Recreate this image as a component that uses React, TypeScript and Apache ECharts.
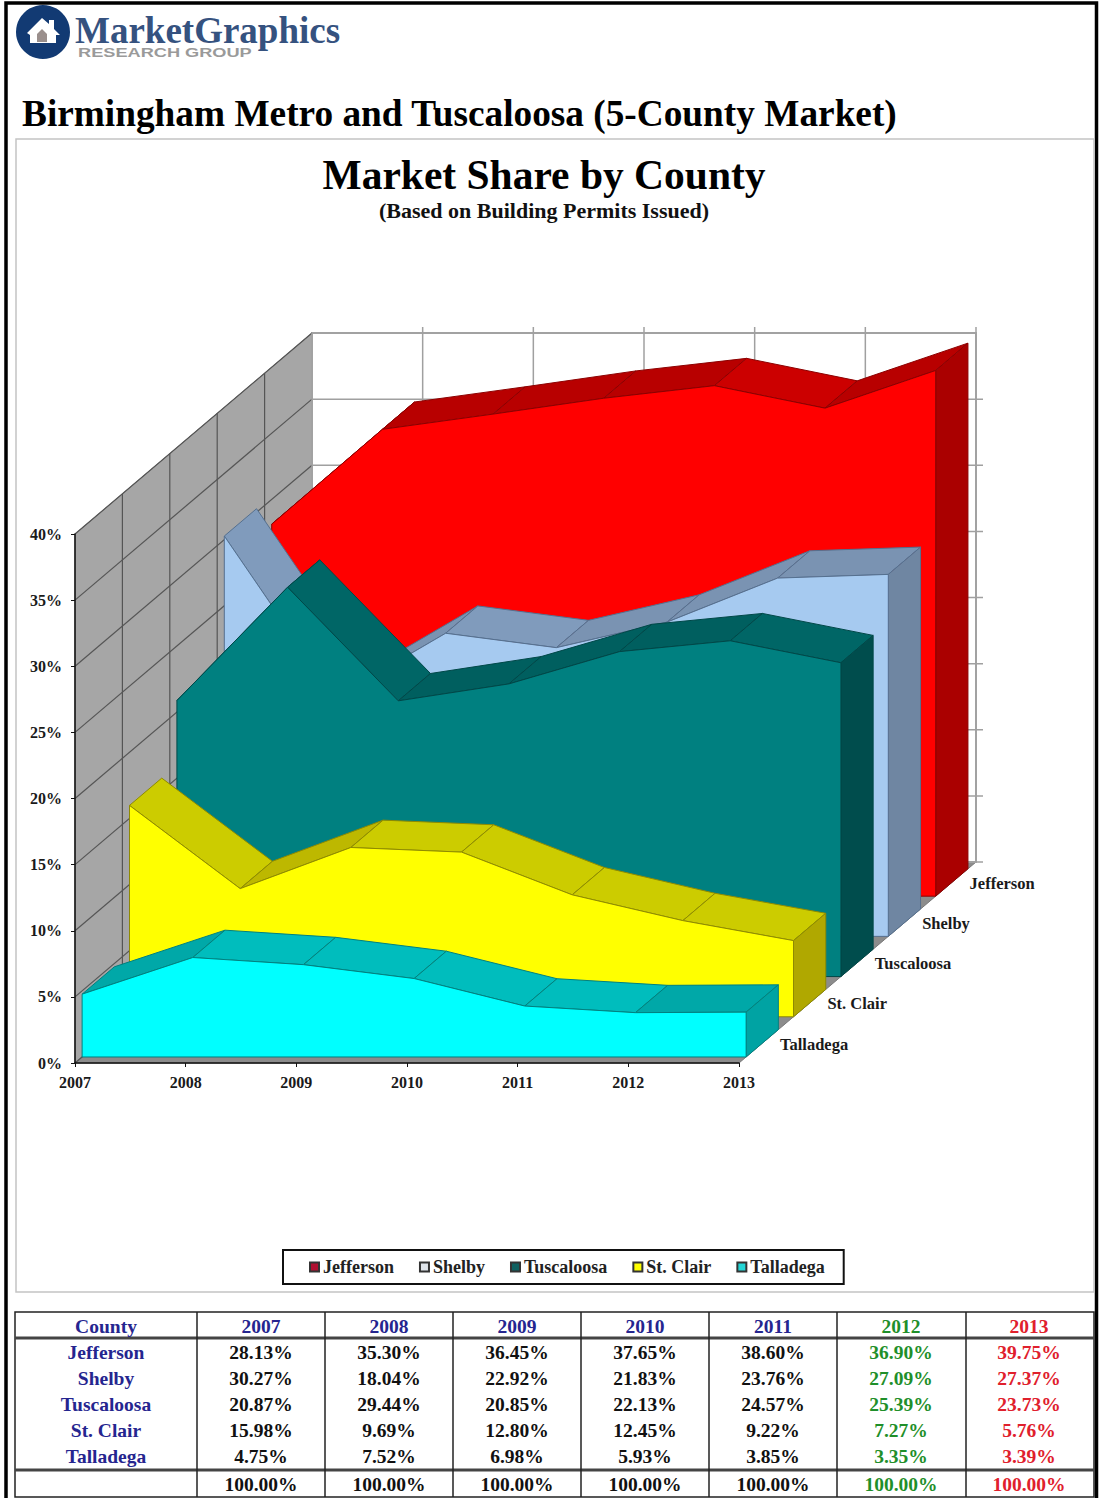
import React, { useEffect, useRef } from "react";
import * as echarts from "echarts";

const years = ["2007", "2008", "2009", "2010", "2011", "2012", "2013"];
const yTicks = [0, 5, 10, 15, 20, 25, 30, 35, 40];

const counties = ["Jefferson", "Shelby", "Tuscaloosa", "St. Clair", "Talladega"];
const jefferson = [28.13, 35.3, 36.45, 37.65, 38.6, 36.9, 39.75];
const shelby = [30.27, 18.04, 22.92, 21.83, 23.76, 27.09, 27.37];
const tuscaloosa = [20.87, 29.44, 20.85, 22.13, 24.57, 25.39, 23.73];
const stClair = [15.98, 9.69, 12.8, 12.45, 9.22, 7.27, 5.76];
const talladega = [4.75, 7.52, 6.98, 5.93, 3.85, 3.35, 3.39];
const totals = [100, 100, 100, 100, 100, 100, 100];
const shares = [jefferson, shelby, tuscaloosa, stClair, talladega];

// front, falling top, rising top, end cap, edge, legend swatch
const frontColors = ["#ff0000", "#a6caf0", "#008080", "#ffff00", "#00ffff"];
const topColors = ["#cc0000", "#809bbc", "#006666", "#cccc00", "#00bdbd"];
const riseColors = ["#b80000", "#7a93b2", "#005f5f", "#bdb800", "#00a8a8"];
const capColors = ["#aa0000", "#6f86a2", "#004d4d", "#b0a800", "#00a3a3"];
const edgeColors = ["#8c0000", "#55708f", "#004848", "#8f8a00", "#008080"];
const swatchColors = ["#b01030", "#dfe4ea", "#0f6060", "#ffff00", "#22d5d5"];

const SERIF = '"Liberation Serif"';
const DEPTH_X = 47.4;
const DEPTH_Y = 40.2;
const BAND_FRONT = 0.15;
const BAND_BACK = 0.83;
const LAST = years.length - 1;
const ROWS = counties.length;

type Pt = [number, number];
const shift = (p: number[], depth: number): Pt => [p[0] + DEPTH_X * depth, p[1] - DEPTH_Y * depth];

// Side wall, back wall and floor of the box the bands stand in.
function renderBox(_params: any, api: any) {
  const at = (i: number, v: number, depth: number) => shift(api.coord([i, v]), depth);
  const children: any[] = [];
  const line = (a: Pt, b: Pt, stroke: string, lineWidth = 1) =>
    children.push({ type: "line", shape: { x1: a[0], y1: a[1], x2: b[0], y2: b[1] }, style: { stroke, lineWidth } });

  children.push({
    type: "polygon",
    shape: { points: [at(0, 0, 0), at(LAST, 0, 0), at(LAST, 0, ROWS), at(0, 0, ROWS)] },
    style: { fill: "#8c8c8c", stroke: "#777777", lineWidth: 1 },
  });
  children.push({
    type: "polygon",
    shape: { points: [at(0, 0, 0), at(0, 40, 0), at(0, 40, ROWS), at(0, 0, ROWS)] },
    style: { fill: "#a6a6a6", stroke: "#6e6e6e", lineWidth: 1 },
  });
  children.push({
    type: "polygon",
    shape: { points: [at(0, 0, ROWS), at(0, 40, ROWS), at(LAST, 40, ROWS), at(LAST, 0, ROWS)] },
    style: { fill: "#ffffff", stroke: "#a8a8a8", lineWidth: 2 },
  });
  yTicks.forEach((v) => {
    line(at(0, v, 0), at(0, v, ROWS), "#555555", 1.2);
    const right = at(LAST, v, ROWS);
    line(at(0, v, ROWS), [right[0] + (v < 40 ? 7 : 0), right[1]], "#a0a0a0", 1.5);
  });
  for (let k = 1; k < ROWS; k++) line(at(0, 0, k), at(0, 40, k), "#555555", 1.2);
  years.forEach((_y, i) => {
    const top = at(i, 40, ROWS);
    line(at(i, 0, ROWS), [top[0], top[1] - (i > 0 ? 6 : 0)], "#a0a0a0", 1.5);
  });
  return { type: "group", children };
}

// One county's band: top facets left to right, the end cap, then the front face.
function makeBand(row: number) {
  const values = shares[row];
  const depthFront = ROWS - 1 - row + BAND_FRONT;
  const depthBack = ROWS - 1 - row + BAND_BACK;
  return (params: any, api: any) => {
    if (params.dataIndex !== 0) return null;
    const front = (i: number, v: number) => shift(api.coord([i, v]), depthFront);
    const back = (i: number, v: number) => shift(api.coord([i, v]), depthBack);
    const children: any[] = [];
    const edge = edgeColors[row];
    for (let i = 0; i < LAST; i++) {
      const rising = values[i + 1] > values[i];
      children.push({
        type: "polygon",
        shape: { points: [front(i, values[i]), front(i + 1, values[i + 1]), back(i + 1, values[i + 1]), back(i, values[i])] },
        style: { fill: rising ? riseColors[row] : topColors[row], stroke: edge, lineWidth: 1 },
      });
    }
    children.push({
      type: "polygon",
      shape: { points: [front(LAST, 0), front(LAST, values[LAST]), back(LAST, values[LAST]), back(LAST, 0)] },
      style: { fill: capColors[row], stroke: edge, lineWidth: 1 },
    });
    const outline: Pt[] = [front(0, 0)];
    values.forEach((v, i) => outline.push(front(i, v)));
    outline.push(front(LAST, 0));
    children.push({
      type: "polygon",
      shape: { points: outline },
      style: { fill: frontColors[row], stroke: edge, lineWidth: 1 },
    });
    const foot = shift(api.coord([LAST, 0]), ROWS - 1 - row);
    children.push({
      type: "text",
      style: {
        text: counties[row],
        x: foot[0] + 41,
        y: foot[1] - 19,
        align: "left",
        verticalAlign: "middle",
        fill: "#1a1a1a",
        font: `bold 16.5px ${SERIF}`,
      },
    });
    return { type: "group", children };
  };
}

// Masthead, page frame and the table below the chart.
const columnCentres = [261, 389, 517, 645, 773, 901, 1029];
const rowCentres = [1352, 1378, 1404, 1430, 1456];
const columnRules = [197, 325, 453, 581, 709, 837, 966];
const NAVY = "#25258f";
const yearColor = (i: number, base: string) => (i === 5 ? "#1f8f2a" : i === 6 ? "#e0202c" : base);
const percent = (v: number) => `${v.toFixed(2)}%`;

function cell(text: string, x: number, y: number, fill: string) {
  return {
    type: "text",
    silent: true,
    style: { text, x, y, align: "center", verticalAlign: "middle", fill, font: `bold 19.5px ${SERIF}` },
  };
}

function rule(x1: number, y1: number, x2: number, y2: number, stroke = "#222222", lineWidth = 1.5) {
  return { type: "line", silent: true, shape: { x1, y1, x2, y2 }, style: { stroke, lineWidth } };
}

function pageGraphics() {
  const items: any[] = [
    { type: "rect", silent: true, z: -10, shape: { x: 6, y: 3, width: 1090.5, height: 1500 }, style: { fill: "#ffffff", stroke: "#000000", lineWidth: 3.5 } },
    { type: "rect", silent: true, z: -9, shape: { x: 16, y: 139, width: 1078, height: 1153 }, style: { fill: "#ffffff", stroke: "#c4c4c4", lineWidth: 1.5 } },
    { type: "circle", silent: true, shape: { cx: 43, cy: 32, r: 27 }, style: { fill: "#123a73" } },
    { type: "polygon", silent: true, shape: { points: [[27, 33], [42, 18], [49, 24], [49, 20], [54, 20], [54, 29], [60, 35], [56, 35], [56, 43], [30, 43], [30, 35]] }, style: { fill: "#ffffff" } },
    { type: "polygon", silent: true, shape: { points: [[37, 42], [37, 34], [42, 29], [47, 34], [47, 42]] }, style: { fill: "#9a8f8c" } },
    { type: "text", silent: true, style: { text: "MarketGraphics", x: 75, y: 30, align: "left", verticalAlign: "middle", fill: "#35527f", font: `bold 37px ${SERIF}` } },
    { type: "text", silent: true, x: 78, y: 52, scaleX: 1.4, style: { text: "RESEARCH GROUP", x: 0, y: 0, align: "left", verticalAlign: "middle", fill: "#9a9a9a", font: 'bold 13px "Liberation Sans"' } },
    { type: "text", silent: true, style: { text: "Birmingham Metro and Tuscaloosa (5-County Market)", x: 22, y: 113, align: "left", verticalAlign: "middle", fill: "#000000", font: `bold 37.3px ${SERIF}` } },
    { type: "rect", silent: true, shape: { x: 15, y: 1312, width: 1079, height: 185 }, style: { fill: "#ffffff", stroke: "#222222", lineWidth: 1.5 } },
    rule(15, 1338, 1094, 1338, "#444444", 3),
    rule(15, 1470, 1094, 1470, "#444444", 3),
  ];
  columnRules.forEach((x) => items.push(rule(x, 1312, x, 1497)));
  items.push(cell("County", 106, 1326, NAVY));
  years.forEach((y, i) => items.push(cell(y, columnCentres[i], 1326, yearColor(i, NAVY))));
  counties.forEach((name, r) => {
    items.push(cell(name, 106, rowCentres[r], NAVY));
    shares[r].forEach((v, i) => items.push(cell(percent(v), columnCentres[i], rowCentres[r], yearColor(i, "#111111"))));
  });
  totals.forEach((v, i) => items.push(cell(percent(v), columnCentres[i], 1484, yearColor(i, "#111111"))));
  return items;
}

export default function App() {
  const ref = useRef<HTMLDivElement>(null);
  useEffect(() => {
    const chart = echarts.init(ref.current!, undefined, { renderer: "svg" });
    const axisText = { fontFamily: SERIF, fontWeight: "bold" as const, fontSize: 16, color: "#1a1a1a" };
    const axisLine = { show: true, lineStyle: { color: "#111111", width: 1.5 } };
    chart.setOption({
      animation: false,
      backgroundColor: "#ffffff",
      title: {
        text: "Market Share by County",
        subtext: "(Based on Building Permits Issued)",
        left: 539,
        top: 149,
        textAlign: "center",
        itemGap: 3,
        textStyle: { fontFamily: SERIF, fontWeight: "bold", fontSize: 41.5, color: "#000000" },
        subtextStyle: { fontFamily: SERIF, fontWeight: "bold", fontSize: 22, color: "#111111" },
      },
      legend: {
        data: counties.map((name, row) => ({
          name,
          itemStyle: { color: swatchColors[row], borderColor: "#333333", borderWidth: 2 },
        })),
        left: 283,
        top: 1250,
        orient: "horizontal",
        icon: "rect",
        itemWidth: 9,
        itemHeight: 9,
        itemGap: 25,
        padding: [8, 19, 8, 26],
        borderColor: "#111111",
        borderWidth: 2,
        backgroundColor: "#ffffff",
        selectedMode: false,
        textStyle: { fontFamily: SERIF, fontWeight: "bold", fontSize: 18, color: "#222222", padding: [0, 0, 0, -1] },
      },
      grid: { left: 75, top: 534, width: 664, height: 529 },
      xAxis: {
        type: "category",
        data: years,
        boundaryGap: false,
        z: 10,
        axisLine,
        axisTick: { show: true, length: 4, lineStyle: { color: "#111111" } },
        axisLabel: { ...axisText, margin: 11 },
      },
      yAxis: {
        type: "value",
        min: 0,
        max: 40,
        interval: 5,
        z: 10,
        splitLine: { show: false },
        axisLine,
        axisTick: { show: true, length: 4, lineStyle: { color: "#111111" } },
        axisLabel: { ...axisText, margin: 13, formatter: "{value}%" },
      },
      series: [
        { type: "custom", silent: true, z: 1, data: [[0, 0]], renderItem: renderBox, encode: { x: 0, y: 1 } },
        ...counties.map((name, row) => ({
          type: "custom",
          name,
          silent: true,
          z: 2 + row,
          data: shares[row].map((v, i) => [i, v]),
          encode: { x: 0, y: 1 },
          itemStyle: { color: frontColors[row] },
          renderItem: makeBand(row),
        })),
      ],
      graphic: { elements: pageGraphics() },
    });
    return () => chart.dispose();
  }, []);
  return <div ref={ref} style={{ position: "absolute", left: 0, top: 0, width: 1099, height: 1498 }} />;
}
